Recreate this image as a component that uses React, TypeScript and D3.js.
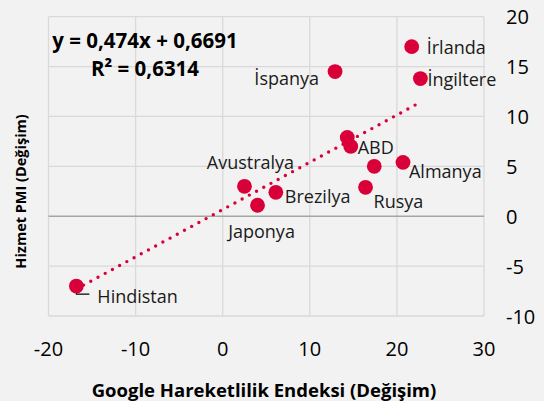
import * as d3 from "d3";

// countries (two points carry no label in the source)
const countries = ["İrlanda", "İngiltere", "İspanya", "", "ABD", "", "Almanya", "Rusya", "Avustralya", "Japonya", "Brezilya", "Hindistan"];
const mobility = [21.7, 22.7, 12.9, 14.3, 14.7, 17.4, 20.7, 16.4, 2.5, 4.0, 6.1, -16.8];
const pmi = [17.0, 13.8, 14.5, 7.9, 7.0, 5.0, 5.4, 2.9, 3.0, 1.1, 2.4, -7.0];

const xTicks = [-20, -10, 0, 10, 20, 30];
const yTicks = [-10, -5, 0, 5, 10, 15, 20];

const slope = 0.474;
const intercept = 0.6691;
const eqLabel = "y = 0,474x + 0,6691";
const r2Label = "R² = 0,6314";

const W = 544;
const H = 401;
const RED = "#d9003a";
const FONT = "'Open Sans', sans-serif";

// label placement relative to its dot
const labelPos: Record<string, { dx: number; dy: number; anchor: string }> = {
  "İrlanda": { dx: 15, dy: 0, anchor: "start" },
  "İngiltere": { dx: 7, dy: 0, anchor: "start" },
  "İspanya": { dx: -16, dy: 6, anchor: "end" },
  ABD: { dx: 7, dy: 1, anchor: "start" },
  Almanya: { dx: 6, dy: 9, anchor: "start" },
  Rusya: { dx: 8, dy: 14, anchor: "start" },
  Avustralya: { dx: 6, dy: -24, anchor: "middle" },
  Japonya: { dx: 4, dy: 26, anchor: "middle" },
  Brezilya: { dx: 9, dy: 4, anchor: "start" },
  Hindistan: { dx: 21, dy: 10, anchor: "start" },
};

export default function App() {
  const x = d3.scaleLinear().domain([-20, 30]).range([48.5, 484]);
  const y = d3.scaleLinear().domain([-10, 20]).range([316, 16.7]);

  const pts = countries.map((c, i) => ({ name: c, x: mobility[i], y: pmi[i] }));
  const xMin = d3.min(mobility) as number;
  const xMax = d3.max(mobility) as number;
  const trend = d3
    .line<number>()
    .x((d) => x(d))
    .y((d) => y(slope * d + intercept));

  const hind = pts.find((p) => p.name === "Hindistan")!;

  return (
    <svg
      width={W}
      height={H}
      style={{ position: "absolute", left: 0, top: 0, fontFamily: FONT }}
    >
      <rect width={W} height={H} fill="#f2f2f2" />
      {/* grid */}
      {xTicks.map((t) => (
        <line key={"gx" + t} x1={x(t)} x2={x(t)} y1={y(20)} y2={y(-10)} stroke="#d9d9d9" strokeWidth={1.3} />
      ))}
      {yTicks.map((t) => (
        <line
          key={"gy" + t}
          x1={x(-20)}
          x2={x(30)}
          y1={y(t)}
          y2={y(t)}
          stroke={t === 0 ? "#a6a6a6" : "#d9d9d9"}
          strokeWidth={t === 0 ? 1.5 : 1.3}
        />
      ))}
      {/* tick labels */}
      {xTicks.map((t) => (
        <text key={"tx" + t} x={x(t)} y={348} textAnchor="middle" dominantBaseline="central" fontSize={20} fill="#000">
          {t}
        </text>
      ))}
      {yTicks.map((t) => (
        <text key={"ty" + t} x={506} y={y(t)} textAnchor="start" dominantBaseline="central" fontSize={20} fill="#000">
          {t}
        </text>
      ))}
      {/* trendline */}
      <path
        d={trend([xMin, xMax]) || ""}
        fill="none"
        stroke={RED}
        strokeWidth={3.4}
        strokeLinecap="round"
        strokeDasharray="0 8.2"
      />
      {/* Hindistan leader line */}
      <path
        d={`M${x(hind.x)},${y(hind.y) + 2}V${y(hind.y) + 8}H${x(hind.x) + 13}`}
        fill="none"
        stroke="#000"
        strokeWidth={1.2}
      />
      {/* points */}
      {pts.map((p, i) => (
        <circle key={"p" + i} cx={x(p.x)} cy={y(p.y)} r={7.4} fill={RED} />
      ))}
      {/* labels */}
      {pts
        .filter((p) => p.name)
        .map((p) => {
          const lp = labelPos[p.name];
          return (
            <text
              key={"l" + p.name}
              x={x(p.x) + lp.dx}
              y={y(p.y) + lp.dy}
              textAnchor={lp.anchor}
              dominantBaseline="central"
              fontSize={18}
              fill="#1a1a1a"
            >
              {p.name}
            </text>
          );
        })}
      {/* equation */}
      <text x={145} y={40} textAnchor="middle" dominantBaseline="central" fontSize={20.5} fontWeight={700} fill="#000">
        {eqLabel}
      </text>
      <text x={145} y={68} textAnchor="middle" dominantBaseline="central" fontSize={20.5} fontWeight={700} fill="#000">
        {r2Label}
      </text>
      {/* axis titles */}
      <text x={264} y={389} textAnchor="middle" dominantBaseline="central" fontSize={18.5} fontWeight={700} fill="#000">
        Google Hareketlilik Endeksi (Değişim)
      </text>
      <text
        transform={`translate(20.5,191.5) rotate(-90)`}
        textAnchor="middle"
        dominantBaseline="central"
        fontSize={14.5}
        fontWeight={700}
        fill="#000"
      >
        Hizmet PMI (Değişim)
      </text>
    </svg>
  );
}
